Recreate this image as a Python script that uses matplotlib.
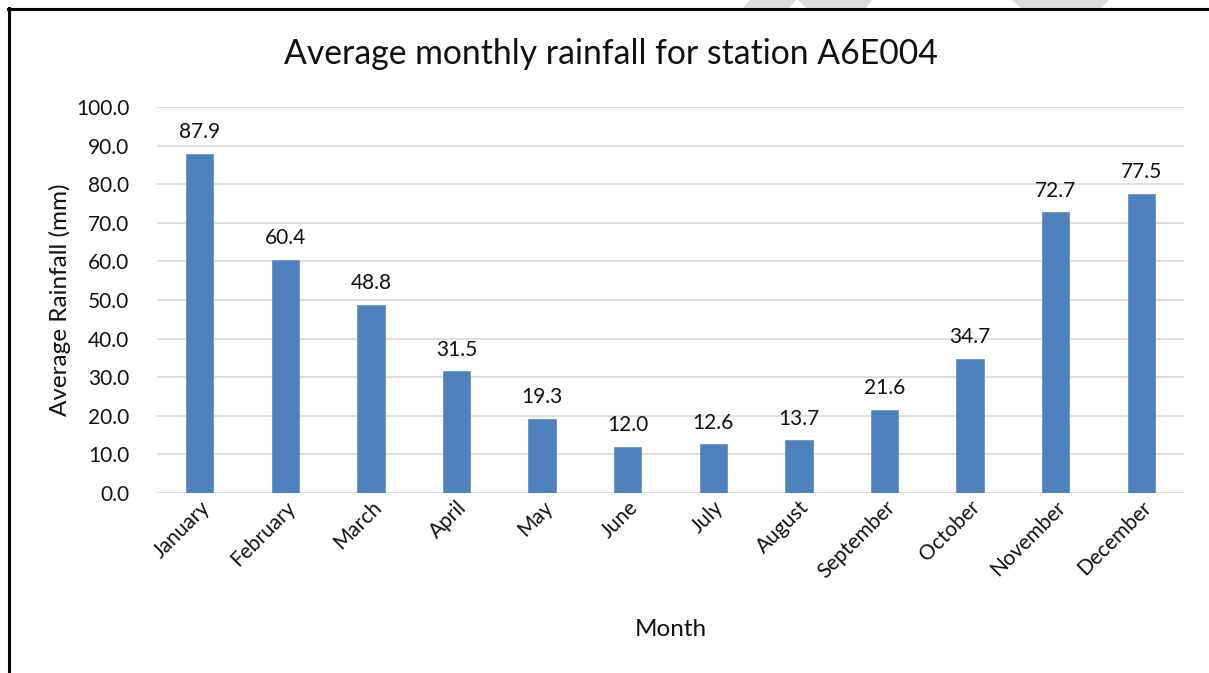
import matplotlib
matplotlib.use("Agg")
import matplotlib.pyplot as plt
from matplotlib.patches import Polygon
from matplotlib.lines import Line2D

months = ["January", "February", "March", "April", "May", "June", "July",
          "August", "September", "October", "November", "December"]
rainfall = [87.9, 60.4, 48.8, 31.5, 19.3, 12.0, 12.6, 13.7, 21.6, 34.7, 72.7, 77.5]
y_ticks = [0, 10, 20, 30, 40, 50, 60, 70, 80, 90, 100]

W, H = 1209, 673
plt.rcParams["font.family"] = ["Lato", "DejaVu Sans"]

fig = plt.figure(figsize=(W / 100, H / 100), dpi=100)
fig.patch.set_facecolor("white")

def px(x0, y0, x1, y1):
    # convert pixel box (top-left origin) to figure fraction rect
    return [x0 / W, 1 - y1 / H, (x1 - x0) / W, (y1 - y0) / H]

ax = fig.add_axes(px(157, 107, 1184, 493))
x = list(range(len(months)))
ax.bar(x, rainfall, width=0.32, color="#4F81BD", edgecolor="#6A95C9",
       linewidth=0.6, zorder=3)
for xi, v in zip(x, rainfall):
    ax.text(xi, v + 3.0, f"{v:.1f}", ha="center", va="bottom",
            fontsize=15, color="#111111")

ax.set_xlim(-0.5, len(months) - 0.5)
ax.set_ylim(0, 100)
ax.set_yticks(y_ticks)
ax.set_yticklabels([f"{t:.1f}" for t in y_ticks], fontsize=15)
ax.set_xticks(x)
ax.set_xticklabels(months, rotation=45, ha="right", rotation_mode="anchor",
                   fontsize=15)
ax.tick_params(axis="both", length=0, colors="#111111")
ax.tick_params(axis="y", pad=20)
ax.tick_params(axis="x", pad=3)
ax.grid(axis="y", color="#D9D9D9", linewidth=1.2, zorder=0)
for s in ax.spines.values():
    s.set_visible(False)

fig.text(60 / W, 1 - 300 / H, "Average Rainfall (mm)", rotation=90,
         ha="center", va="center", fontsize=17.5, color="#111111")
fig.text(611 / W, 1 - 54 / H, "Average monthly rainfall for station A6E004",
         ha="center", va="center", fontsize=24.3, color="#111111")
fig.text(671 / W, 1 - 630 / H, "Month", ha="center", va="center",
         fontsize=17.5, color="#111111")

# light grey shapes peeking above the frame
grey = "#DCDCDC"
for pts in ([(750, 0), (796, 0), (789, 8), (743, 8)],
            [(798, 0), (872, 0), (866, 8), (806, 8)],
            [(1012, 0), (1109, 0), (1101, 8), (1021, 8)]):
    fig.patches.append(Polygon([(a / W, 1 - b / H) for a, b in pts],
                               closed=True, facecolor=grey, edgecolor="none",
                               transform=fig.transFigure, zorder=0))

# frame lines along top and left
fig.add_artist(Line2D([8 / W, 1.0], [1 - 9 / H, 1 - 9 / H], color="black",
                      linewidth=2.2, transform=fig.transFigure))
fig.add_artist(Line2D([9 / W, 9 / W], [1 - 8 / H, 0.0], color="black",
                      linewidth=2.2, transform=fig.transFigure))

fig.savefig("out.png", dpi=100)
